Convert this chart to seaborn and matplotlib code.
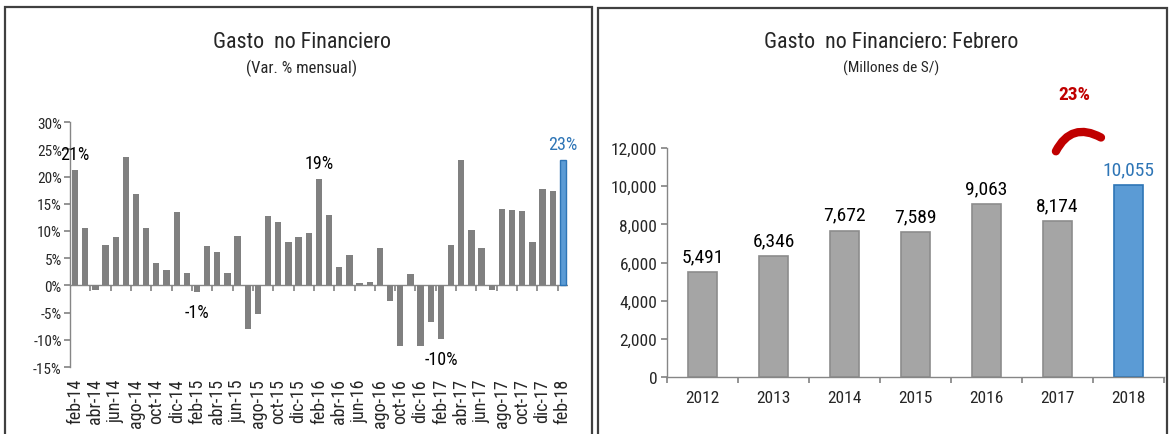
import matplotlib
matplotlib.use("Agg")
import matplotlib.pyplot as plt
import seaborn as sns
import numpy as np
from matplotlib.patches import Rectangle
from matplotlib.ticker import FuncFormatter
from matplotlib import font_manager

# ---------------- data ----------------
months_es = ["ene", "feb", "mar", "abr", "may", "jun", "jul", "ago", "sep", "oct", "nov", "dic"]
month_labels = []
for y in range(14, 19):
    for m in months_es:
        month_labels.append(f"{m}-{y}")
month_labels = month_labels[1:50]  # feb-14 .. feb-18

monthly_var = [21.2, 10.6, -0.9, 7.5, 8.9, 23.6, 16.8, 10.6, 4.2, 2.8, 13.5, 2.3,
               -1.2, 7.2, 6.1, 2.3, 9.1, -8.1, -5.3, 12.7, 11.6, 8.0, 8.9, 9.7,
               19.6, 13.0, 3.4, 5.6, 0.4, 0.6, 6.9, -2.9, -11.1, 2.0, -11.1, -6.7,
               -9.9, 7.5, 23.1, 10.2, 6.9, -0.8, 14.1, 13.8, 13.6, 8.0, 17.7, 17.4,
               23.1]
monthly_annot = {"feb-14": "21%", "feb-15": "-1%", "feb-16": "19%", "feb-17": "-10%", "feb-18": "23%"}

years = ["2012", "2013", "2014", "2015", "2016", "2017", "2018"]
feb_spend = [5491, 6346, 7672, 7589, 9063, 8174, 10055]
growth_label = "23%"

# ---------------- style ----------------
sns.set_theme(style="white")
names = {f.name for f in font_manager.fontManager.ttflist}
narrow = [n for n in ["Liberation Sans Narrow", "Arial Narrow", "DejaVu Sans Condensed",
                      "Roboto Condensed", "Open Sans Condensed"] if n in names]
plt.rcParams["font.family"] = narrow + ["Liberation Sans", "DejaVu Sans"]
SCALE = 1.0 if narrow else 0.9

GRAY_DARK = "#808080"
GRAY_LIGHT = "#A5A5A5"
BLUE = "#5B9BD5"
BLUE_EDGE = "#2E75B6"
BLUE_TXT = "#2E75B6"
RED = "#C00000"
AXIS = "#868686"

fig = plt.figure(figsize=(11.7, 4.35), dpi=100)

# panel borders
fig.patches.append(Rectangle((0.0043, -0.02), 0.502, 1.0016, transform=fig.transFigure,
                             fill=False, edgecolor="#404040", lw=1.6))
fig.patches.append(Rectangle((0.5115, -0.02), 0.486, 0.9993, transform=fig.transFigure,
                             fill=False, edgecolor="#404040", lw=1.6))

# ---------------- left chart ----------------
ax1 = fig.add_axes([0.0598, 0.154, 0.4256, 0.563])
colors1 = [BLUE if i == len(monthly_var) - 1 else GRAY_DARK for i in range(len(monthly_var))]
sns.barplot(x=month_labels, y=monthly_var, hue=month_labels, palette=colors1,
            legend=False, width=0.62, ax=ax1, saturation=1)
for p, c in zip(ax1.patches, colors1):
    p.set_edgecolor(BLUE_EDGE if c == BLUE else "none")
    p.set_linewidth(1.0)
ax1.set_ylim(-15, 30)
ax1.set_xlim(-0.5, len(monthly_var) - 0.5)
ax1.set_yticks(np.arange(-15, 31, 5))
ax1.yaxis.set_major_formatter(FuncFormatter(lambda v, _: f"{v:.0f}%"))
ax1.tick_params(axis="y", labelsize=11 * SCALE, length=4, color=AXIS, pad=2, direction="out", left=True)
ax1.set_xticks(range(0, len(month_labels), 2))
ax1.set_xticklabels(month_labels[::2], rotation=90, fontsize=13 * SCALE)
ax1.tick_params(axis="x", length=0, pad=8)
for s in ["top", "right", "bottom"]:
    ax1.spines[s].set_visible(False)
ax1.spines["left"].set_color(AXIS)
ax1.spines["left"].set_linewidth(1)
ax1.axhline(0, color=AXIS, lw=1, zorder=0.5)
# small tick marks on the zero line
sec = ax1.secondary_xaxis(15 / 45)
sec.set_xticks(np.arange(1.5, len(monthly_var) - 1, 2))
sec.set_xticklabels([])
sec.tick_params(axis="x", direction="out", length=4, color=AXIS)
sec.spines["bottom"].set_visible(False)
ax1.set_xlabel("")

for i, (lab, v) in enumerate(zip(month_labels, monthly_var)):
    if lab in monthly_annot:
        col = BLUE_TXT if i == len(monthly_var) - 1 else "black"
        if v >= 0:
            ax1.annotate(monthly_annot[lab], (i, v), xytext=(0, 5), textcoords="offset points",
                         ha="center", va="bottom", fontsize=13 * SCALE, color=col)
        else:
            ax1.annotate(monthly_annot[lab], (i, v), xytext=(0, -8), textcoords="offset points",
                         ha="center", va="top", fontsize=13 * SCALE, color=col)

fig.text(0.258, 0.903, "Gasto  no Financiero", ha="center", va="center", fontsize=15.8 * SCALE)
fig.text(0.258, 0.843, "(Var. % mensual)", ha="center", va="center", fontsize=12 * SCALE)

# ---------------- right chart ----------------
ax2 = fig.add_axes([0.5701, 0.131, 0.4248, 0.5264])
colors2 = [BLUE if i == len(feb_spend) - 1 else GRAY_LIGHT for i in range(len(feb_spend))]
sns.barplot(x=years, y=feb_spend, hue=years, palette=colors2, legend=False,
            width=0.41, ax=ax2, saturation=1)
for p, c in zip(ax2.patches, colors2):
    p.set_edgecolor(BLUE_EDGE if c == BLUE else "#8C8C8C")
    p.set_linewidth(1.2)
ax2.set_ylim(0, 12000)
ax2.set_xlim(-0.5, len(feb_spend) - 0.5)
ax2.set_yticks(np.arange(0, 12001, 2000))
ax2.yaxis.set_major_formatter(FuncFormatter(lambda v, _: f"{v:,.0f}"))
ax2.tick_params(axis="y", labelsize=12.5 * SCALE, length=4, color=AXIS, left=True, pad=3)
ax2.tick_params(axis="x", labelsize=12.5 * SCALE, length=0, pad=9)
for s in ["top", "right"]:
    ax2.spines[s].set_visible(False)
for s in ["left", "bottom"]:
    ax2.spines[s].set_color(AXIS)
    ax2.spines[s].set_linewidth(1)
sec2 = ax2.secondary_xaxis(0)
sec2.set_xticks(np.arange(-0.5, len(feb_spend), 1))
sec2.set_xticklabels([])
sec2.tick_params(axis="x", direction="out", length=4, color=AXIS)
sec2.spines["bottom"].set_visible(False)

for i, v in enumerate(feb_spend):
    col = BLUE_TXT if i == len(feb_spend) - 1 else "black"
    ax2.annotate(f"{v:,.0f}", (i, v), xytext=(0, 5), textcoords="offset points",
                 ha="center", va="bottom", fontsize=14 * SCALE, color=col)

ax2.text(0.819, 1.236, growth_label, transform=ax2.transAxes, ha="center", va="center",
         fontsize=14 * SCALE, fontweight="bold", color=RED)
ax2.annotate("", xy=(0.878, 1.04), xytext=(0.78, 0.975), xycoords="axes fraction",
             textcoords="axes fraction",
             arrowprops=dict(arrowstyle="-", color=RED, lw=6, capstyle="round",
                             connectionstyle="arc3,rad=-0.55"))

fig.text(0.762, 0.903, "Gasto  no Financiero: Febrero", ha="center", va="center", fontsize=15.8 * SCALE)
fig.text(0.762, 0.843, "(Millones de S/)", ha="center", va="center", fontsize=11 * SCALE)

fig.savefig("out.png", dpi=100)
